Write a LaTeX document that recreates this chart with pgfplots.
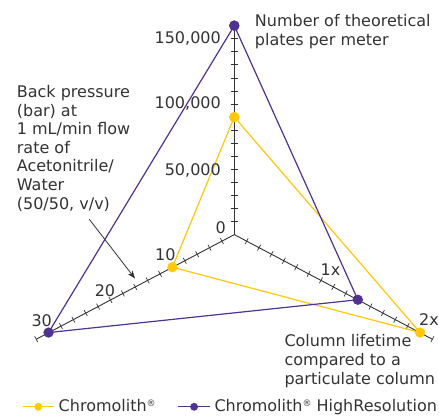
\documentclass[border=0pt]{standalone}
\usepackage{fontspec}
\setmainfont{DejaVu Sans}
\usepackage{pgfplots}
\usepackage{pgfplotstable}
\pgfplotsset{compat=1.18}
\usetikzlibrary{arrows.meta}

\definecolor{yel}{HTML}{FFC80A}
\definecolor{pur}{HTML}{503291}
\definecolor{txt}{HTML}{333333}
\newcommand\reg{\raisebox{5pt}{\fontsize{9}{9}\selectfont ®}}

% one row per spoke: angle, value, value at tick 15
\pgfplotstableread{
a v full
90 90000 150000
330 2 2
210 10 30
90 90000 150000
}\chromolith

\pgfplotstableread{
a v full
90 160000 150000
330 1.33 2
210 30 30
90 160000 150000
}\highres

\begin{document}
\fontsize{16}{18.6}\selectfont
\begin{tikzpicture}[lbl/.style={inner sep=0pt, text=txt}]
\begin{axis}[
    name=ax,
    x=1pt, y=1pt, xmin=0, xmax=439, ymin=0, ymax=416, y dir=reverse,
    hide axis, clip=false, scale only axis,
    legend columns=2,
    legend style={at={(axis cs:21.7,406.8)}, anchor=west, draw=none, fill=none,
        inner sep=0pt, text=txt, nodes={inner sep=0pt},
        /tikz/every odd column/.append style={column sep=4pt},
        /tikz/column 2/.append style={column sep=22pt}},
    legend image code/.code={\draw[mark repeat=2,mark phase=2,mark size=3.3pt]
        plot coordinates {(0pt,0pt) (15.8pt,0pt) (31.6pt,0pt)};},
]
% spokes
\draw[txt, line width=0.9pt] (axis cs:234.3,234.6) -- (axis cs:234.3,{234.6-16*13.06});
\draw[txt, line width=0.9pt] (axis cs:234.3,234.6) -- (axis cs:{234.3-16*12.38},{234.6+16*6.54});
\draw[txt, line width=0.9pt] (axis cs:234.3,234.6) -- (axis cs:{234.3+16*12.38},{234.6+16*6.54});
\pgfplotsinvokeforeach{1,...,16}{
  \draw[txt, line width=0.7pt] (axis cs:234.3,{234.6-#1*13.06}) ++(-3.3pt,0pt) -- ++(6.6pt,0pt);
  \draw[txt, line width=0.7pt] (axis cs:{234.3-#1*12.38},{234.6+#1*6.54}) ++(-1.55pt,2.9pt) -- ++(3.1pt,-5.8pt);
  \draw[txt, line width=0.7pt] (axis cs:{234.3+#1*12.38},{234.6+#1*6.54}) ++(1.55pt,2.9pt) -- ++(-3.1pt,-5.8pt);
}

\addplot[yel, line width=1.2pt, mark=*, mark size=4.5pt] table[
    x expr={234.3+214.5*cos(\thisrow{a})*\thisrow{v}/\thisrow{full}},
    y expr={234.6-195.9*sin(\thisrow{a})*\thisrow{v}/\thisrow{full}}] {\chromolith};
\addplot[pur, line width=1.2pt, mark=*, mark size=4.5pt] table[
    x expr={234.3+214.5*cos(\thisrow{a})*\thisrow{v}/\thisrow{full}},
    y expr={234.6-195.9*sin(\thisrow{a})*\thisrow{v}/\thisrow{full}}] {\highres};
\legend{Chromolith\reg, Chromolith\reg{} HighResolution}

% scale labels
\node[lbl, anchor=base east] at (axis cs:221,43.3) {150,000};
\node[lbl, anchor=base east] at (axis cs:221,108.3) {100,000};
\node[lbl, anchor=base east] at (axis cs:221,175) {50,000};
\node[lbl, anchor=base east] at (axis cs:226,233.5) {0};
\node[lbl, anchor=base] at (axis cs:165.3,260.7) {10};
\node[lbl, anchor=base] at (axis cs:105,296) {20};
\node[lbl, anchor=base] at (axis cs:41.7,326) {30};
\node[lbl, anchor=base] at (axis cs:330.5,275) {1x};
\node[lbl, anchor=base east] at (axis cs:439,325) {2x};

% axis titles
\node[lbl, anchor=north west, align=left] at (axis cs:254.7,14.5)
    {Number of theoretical\\plates per meter};
\node[lbl, anchor=north west, align=left] at (axis cs:16.7,85.1)
    {Back pressure\\(bar) at\\1 mL/min flow\\rate of\\Acetonitrile/\\Water\\(50/50, v/v)};
\node[lbl, anchor=north west, align=left] at (axis cs:284.3,334.5)
    {Column lifetime\\compared to a\\particulate column};
\draw[txt, line width=0.8pt, -{Stealth[length=8pt,width=6pt]}] (axis cs:89.3,219.3) -- (axis cs:135,278.5);
\end{axis}
\pgfresetboundingbox
\path[use as bounding box] (ax.south west) rectangle (ax.north east);
\end{tikzpicture}
\end{document}
